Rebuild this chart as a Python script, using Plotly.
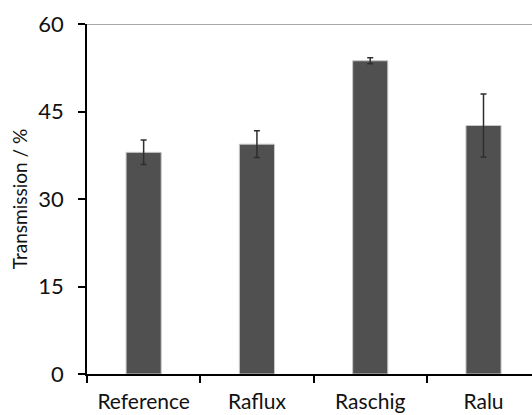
import plotly.graph_objects as go

categories = ["Reference", "Raflux", "Raschig", "Ralu"]
values = [38.0, 39.4, 53.7, 42.6]
errors = [2.1, 2.3, 0.5, 5.4]
y_ticks = [0, 15, 30, 45, 60]

FONT = "Lato"

fig = go.Figure()
fig.add_trace(go.Bar(
    x=categories, y=values,
    marker=dict(color="#505050", line=dict(color="#c8c8c8", width=1)),
    width=0.31,
    error_y=dict(type="data", array=errors, visible=True, color="#2e2e2e", thickness=1.5, width=3),
))

fig.add_shape(type="line", xref="paper", yref="y", x0=-0.016, x1=1, y0=60, y1=60,
              line=dict(color="#8a8a8a", width=1.5), layer="below")

fig.update_layout(
    width=532, height=415,
    margin=dict(l=87, r=0, t=24, b=41),
    plot_bgcolor="white", paper_bgcolor="white",
    showlegend=False,
    font=dict(family=FONT, size=22, color="#111111"),
)
fig.update_xaxes(
    type="category", range=[-0.5, 3.428],
    showline=True, linecolor="black", linewidth=1.5,
    ticks="outside", tickson="boundaries", ticklen=7, tickcolor="black", tickwidth=1.5,
    showgrid=False, tickfont=dict(size=21), ticklabelstandoff=8,
)
fig.update_yaxes(
    range=[0, 60], tickvals=y_ticks,
    showline=True, linecolor="black", linewidth=1.5,
    ticks="outside", ticklen=7, tickcolor="black", tickwidth=1.5,
    showgrid=False, zeroline=False, tickfont=dict(size=22), ticklabelstandoff=10,
    title=dict(text="Transmission / %", font=dict(size=19), standoff=6),
)

fig.write_html("out.html")
